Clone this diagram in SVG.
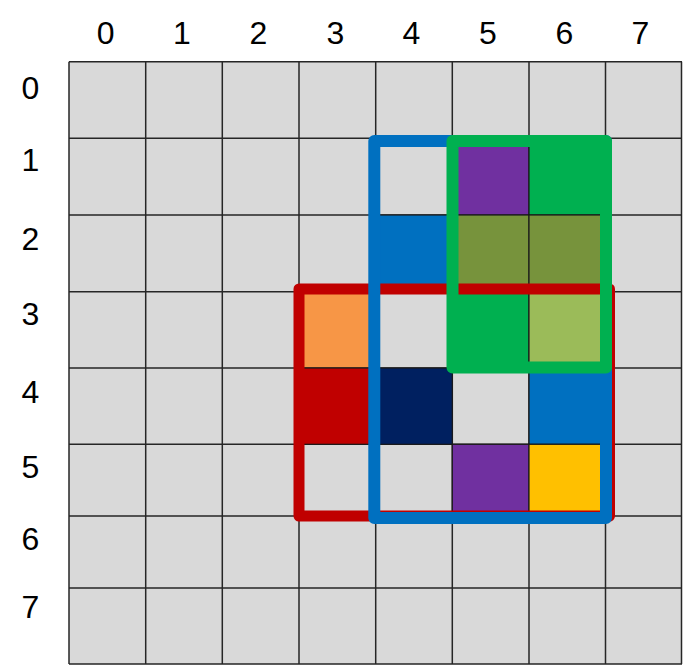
<svg xmlns="http://www.w3.org/2000/svg" width="683" height="666" viewBox="0 0 683 666">
<style>
.lbl{font-family:"Liberation Sans",Arial,sans-serif;font-size:32px;fill:#000;text-anchor:middle}
.cell{fill:#D9D9D9;stroke:#262626;stroke-width:1.5}
.frame{fill:none;stroke-linejoin:round}
</style>
<rect width="683" height="666" fill="#fff"/>
<g id="grid">
<path d="M69,61.7H682V664H69Z" fill="#D9D9D9"/>
<g fill="none" stroke="#262626" stroke-width="1.5">
<path d="M69,61.7V664M145.7,61.7V664M222.3,61.7V664M299,61.7V664M375.7,61.7V664M452.3,61.7V664M529,61.7V664M605.5,61.7V664M681.5,61.7V664"/>
<path d="M69,61.7H682M69,138.3H682M69,215H682M69,291.7H682M69,368H682M69,444.3H682M69,516H682M69,588H682M69,664H682"/>
</g>
</g>
<g id="cells" stroke="#1a1a1a" stroke-width="1.2">
<rect id="c5-1" x="452.3" y="138.3" width="76.7" height="76.7" fill="#7030A0"/>
<rect id="c6-1" x="529" y="138.3" width="76.5" height="76.7" fill="#00B050"/>
<rect id="c4-2" x="375.7" y="215" width="76.6" height="76.7" fill="#0070C0"/>
<rect id="c5-2" x="452.3" y="215" width="76.7" height="76.7" fill="#77933C"/>
<rect id="c6-2" x="529" y="215" width="76.5" height="76.7" fill="#77933C"/>
<rect id="c3-3" x="299" y="291.7" width="76.7" height="76.3" fill="#F79646"/>
<rect id="c5-3" x="452.3" y="291.7" width="76.7" height="76.3" fill="#00B050"/>
<rect id="c6-3" x="529" y="291.7" width="76.5" height="76.3" fill="#9BBB59"/>
<rect id="c3-4" x="299" y="368" width="76.7" height="76.3" fill="#C00000"/>
<rect id="c4-4" x="375.7" y="368" width="76.6" height="76.3" fill="#002060"/>
<rect id="c6-4" x="529" y="368" width="76.5" height="76.3" fill="#0070C0"/>
<rect id="c5-5" x="452.3" y="444.3" width="76.7" height="71.7" fill="#7030A0"/>
<rect id="c6-5" x="529" y="444.3" width="76.5" height="71.7" fill="#FFC000"/>
</g>
<g id="frames">
<rect id="red-frame" class="frame" x="299" y="289" width="310.5" height="227" stroke="#C00000" stroke-width="11"/>
<rect id="blue-frame" class="frame" x="374.3" y="141" width="231.7" height="377" stroke="#0070C0" stroke-width="12"/>
<rect id="green-frame" class="frame" x="452.5" y="141" width="153.5" height="226.5" stroke="#00B050" stroke-width="12"/>
</g>
<g id="col-labels">
<text class="lbl" x="105.7" y="44">0</text>
<text class="lbl" x="182" y="44">1</text>
<text class="lbl" x="258.5" y="44">2</text>
<text class="lbl" x="335.5" y="44">3</text>
<text class="lbl" x="411.5" y="44">4</text>
<text class="lbl" x="488" y="44">5</text>
<text class="lbl" x="564.5" y="44">6</text>
<text class="lbl" x="640.5" y="44">7</text>
</g>
<g id="row-labels">
<text class="lbl" x="30.5" y="99">0</text>
<text class="lbl" x="30.5" y="171">1</text>
<text class="lbl" x="30.5" y="250">2</text>
<text class="lbl" x="30.5" y="325">3</text>
<text class="lbl" x="30.5" y="403">4</text>
<text class="lbl" x="30.5" y="478">5</text>
<text class="lbl" x="30.5" y="550">6</text>
<text class="lbl" x="30.5" y="618">7</text>
</g>
</svg>
